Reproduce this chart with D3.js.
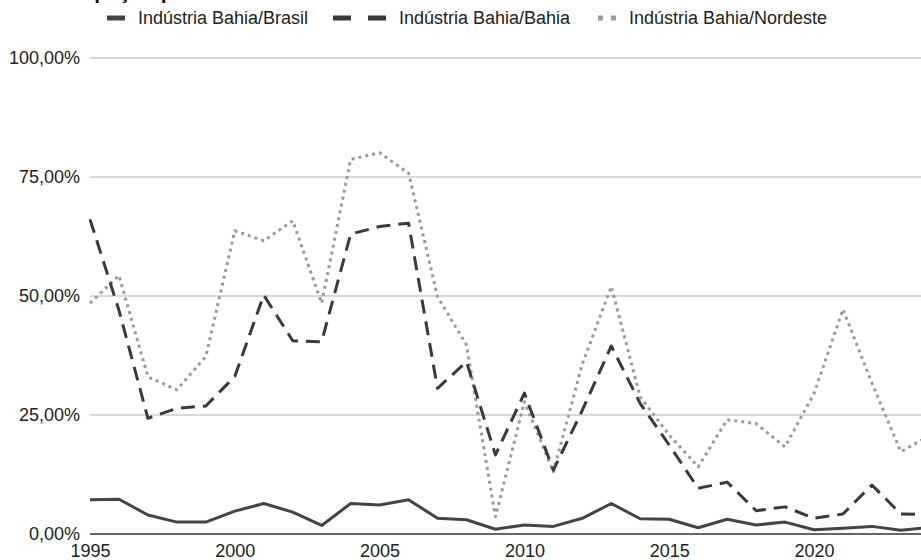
<!DOCTYPE html>
<html>
<head>
<meta charset="utf-8">
<script src="https://cdn.jsdelivr.net/npm/d3@7"></script>
<style>
  html, body { margin: 0; padding: 0; background: #fff; }
  svg { display: block; font-family: "Liberation Sans", Arial, sans-serif; }
</style>
</head>
<body>
<svg id="chart" width="921" height="560"></svg>
<script>
// Chart data
const years = [1995, 1996, 1997, 1998, 1999, 2000, 2001, 2002, 2003, 2004,
               2005, 2006, 2007, 2008, 2009, 2010, 2011, 2012, 2013, 2014,
               2015, 2016, 2017, 2018, 2019, 2020, 2021, 2022, 2023, 2024];

const bahiaBrasil = [7.2, 7.3, 4.0, 2.5, 2.5, 4.8, 6.4, 4.6, 1.8, 6.4,
                     6.1, 7.2, 3.3, 3.0, 1.0, 1.9, 1.6, 3.3, 6.4, 3.2,
                     3.1, 1.3, 3.1, 1.9, 2.5, 0.9, 1.2, 1.6, 0.8, 1.4];

const bahiaBahia = [66.1, 47.0, 24.3, 26.4, 26.9, 33.1, 50.2, 40.6, 40.4, 63.0,
                    64.6, 65.3, 30.6, 36.2, 16.6, 29.6, 13.4, 26.0, 39.5, 27.4,
                    18.7, 9.6, 10.9, 4.9, 5.7, 3.3, 4.2, 10.3, 4.2, 4.1];

const bahiaNordeste = [48.5, 54.3, 33.0, 30.3, 37.3, 63.7, 61.6, 65.8, 48.5, 78.7,
                       80.1, 75.8, 49.9, 39.7, 3.6, 27.8, 13.1, 35.7, 52.0, 28.8,
                       20.8, 14.1, 24.0, 23.2, 18.3, 29.5, 47.2, 31.7, 17.3, 20.7];

const seriesNames = ['Indústria Bahia/Brasil', 'Indústria Bahia/Bahia', 'Indústria Bahia/Nordeste'];
const yTicks = [0, 25, 50, 75, 100];
const xTicks = [1995, 2000, 2005, 2010, 2015, 2020];
const titleText = 'Participação percentual';

const svg = d3.select('#chart');
const fmtPct = v => d3.format('.2f')(v).replace('.', ',') + '%';

// Scales
const x = d3.scaleLinear().domain([1995, 2024]).range([90, 90 + 29 * 28.96]);
const y = d3.scaleLinear().domain([0, 100]).range([534, 58]);

// Title (only its descenders show at the top edge, as in the picture)
svg.append('text')
    .attr('x', 30)
    .attr('y', -1)
    .attr('font-size', 21)
    .attr('font-weight', 'bold')
    .attr('fill', '#111')
    .text(titleText);

// Gridlines
svg.append('g')
    .selectAll('line')
    .data(yTicks.filter(d => d > 0))
    .enter()
    .append('line')
    .attr('x1', 90)
    .attr('x2', 921)
    .attr('y1', d => y(d))
    .attr('y2', d => y(d))
    .attr('stroke', '#cccccc')
    .attr('stroke-width', 1.5);

// Y axis labels
const yAxis = svg.append('g')
    .attr('transform', 'translate(80,0)')
    .call(d3.axisLeft(y).tickValues(yTicks).tickSize(0).tickPadding(0).tickFormat(fmtPct));
yAxis.select('.domain').remove();
yAxis.selectAll('text')
    .attr('font-size', 18)
    .attr('font-family', '"Liberation Sans", Arial, sans-serif')
    .attr('fill', '#222')
    .attr('dy', '0.3em');

// X axis labels
const xAxis = svg.append('g')
    .attr('transform', 'translate(0,534)')
    .call(d3.axisBottom(x).tickValues(xTicks).tickSize(0).tickPadding(10).tickFormat(d3.format('d')));
xAxis.select('.domain').remove();
xAxis.selectAll('text')
    .attr('font-size', 18)
    .attr('font-family', '"Liberation Sans", Arial, sans-serif')
    .attr('fill', '#222');

// Series lines
const line = d3.line()
    .x((d, i) => x(years[i]))
    .y(d => y(d));

const styles = [
    { data: bahiaBrasil, color: '#444444', dash: null },
    { data: bahiaBahia, color: '#3a3a3a', dash: '14,8' },
    { data: bahiaNordeste, color: '#999999', dash: '3,4' }
];

styles.slice().reverse().forEach(s => {
    svg.append('path')
        .datum(s.data)
        .attr('fill', 'none')
        .attr('stroke', s.color)
        .attr('stroke-width', 3)
        .attr('stroke-linejoin', 'round')
        .attr('stroke-dasharray', s.dash)
        .attr('d', line);
});

// Zero baseline
svg.append('line')
    .attr('x1', 90)
    .attr('x2', 921)
    .attr('y1', y(0))
    .attr('y2', y(0))
    .attr('stroke', '#333')
    .attr('stroke-width', 1.5);

// Legend
const legendItems = [
    { name: seriesNames[0], x: 107, color: '#444444', swatches: [[0, 18]], h: 5 },
    { name: seriesNames[1], x: 333, color: '#3a3a3a', swatches: [[0, 18], [35, 18]], h: 5 },
    { name: seriesNames[2], x: 598, color: '#999999', swatches: [[0, 5], [13, 5]], h: 5 }
];
const legend = svg.append('g').attr('class', 'legend');
legendItems.forEach(item => {
    const g = legend.append('g').attr('transform', `translate(${item.x},18)`);
    item.swatches.forEach(sw => {
        g.append('rect')
            .attr('x', sw[0])
            .attr('y', -item.h / 2)
            .attr('width', sw[1])
            .attr('height', item.h)
            .attr('fill', item.color);
    });
    const last = item.swatches[item.swatches.length - 1];
    g.append('text')
        .attr('x', last[0] + last[1] + 13)
        .attr('y', 0)
        .attr('dy', '0.36em')
        .attr('font-size', 18)
        .attr('fill', '#222')
        .text(item.name);
});
</script>
</body>
</html>
